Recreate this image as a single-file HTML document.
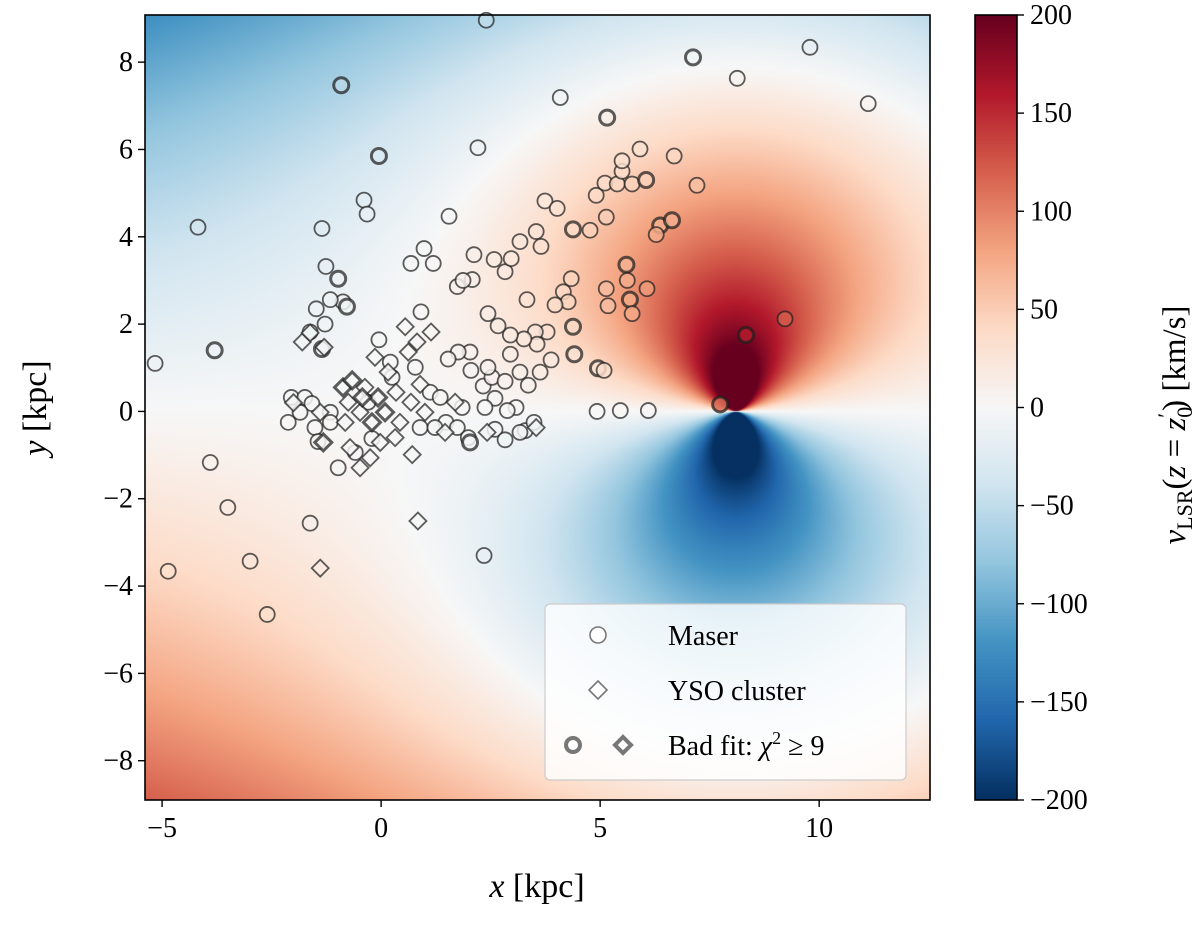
<!DOCTYPE html>
<html><head><meta charset="utf-8">
<style>
html,body{margin:0;padding:0;background:#fff;}
#wrap{position:relative;width:1200px;height:937px;overflow:hidden;font-family:"Liberation Serif",serif;}
canvas{position:absolute;}
svg{position:absolute;left:0;top:0;}
</style></head>
<body>
<div id="wrap">
<canvas id="bg" width="785" height="785" style="left:145px;top:15px;"></canvas>
<canvas id="cb" width="42" height="785" style="left:975px;top:15px;"></canvas>
<svg id="svg" width="1200" height="937"></svg>
</div>
<script>
const xTicks=[-5,0,5,10];
const yTicks=[-8,-6,-4,-2,0,2,4,6,8];
const cbTicks=[200,150,100,50,0,-50,-100,-150,-200];
const maserX=[-5.16,-4.18,-3.8,-3.9,-3.5,-4.86,-2.99,-2.6,-0.91,-0.05,-0.39,-0.32,-1.35,-1.26,-0.98,-0.87,-0.78,-1.16,-1.48,-1.28,-1.62,-1.35,-0.05,0.68,0.98,1.19,0.91,1.55,1.74,2.21,2.4,2.12,2.58,2.83,2.97,3.17,3.33,3.54,3.65,3.74,4.02,4.09,4.38,4.16,4.34,4.27,4.38,4.41,3.97,3.79,3.52,3.56,3.88,3.63,4.91,5.11,5.39,5.5,5.73,5.5,5.16,5.91,6.05,5.14,4.77,5.6,5.62,5.14,5.18,5.68,6.07,5.73,6.37,6.64,6.28,6.69,7.12,8.13,9.79,11.12,7.21,8.33,9.22,7.74,4.95,5.09,4.93,5.46,6.1,3.26,2.95,2.95,2.67,2.44,2.08,1.87,2.03,2.05,1.76,1.53,2.33,2.53,2.44,2.83,2.6,3.17,3.36,3.08,2.88,2.37,1.85,1.48,1.74,1.99,2.6,2.83,3.29,3.49,3.17,2.03,2.35,-1.62,-2.12,-2.05,-1.74,-1.58,-1.85,-1.16,-1.51,-1.16,-0.98,-1.44,-0.59,-0.21,-0.3,0.21,0.25,0.78,1.12,1.35,0.89,1.23];
const maserY=[1.1,4.22,1.4,-1.17,-2.2,-3.66,-3.43,-4.65,7.47,5.85,4.84,4.52,4.19,3.32,3.04,2.51,2.4,2.56,2.35,2.0,1.82,1.43,1.64,3.39,3.73,3.39,2.28,4.47,2.86,6.04,8.96,3.59,3.48,3.2,3.5,3.89,2.56,4.12,3.78,4.82,4.65,7.19,4.17,2.74,3.04,2.51,1.94,1.31,2.44,1.82,1.82,1.54,1.18,0.9,4.95,5.23,5.21,5.5,5.21,5.74,6.73,6.01,5.3,4.45,4.15,3.36,3.0,2.81,2.42,2.56,2.81,2.24,4.26,4.38,4.05,5.85,8.11,7.63,8.34,7.05,5.18,1.75,2.12,0.16,0.99,0.94,0,0.02,0.02,1.66,1.31,1.75,1.96,2.24,3.02,3.0,1.36,0.94,1.36,1.2,0.58,0.78,1.01,0.69,0.3,0.9,0.6,0.09,0.02,0.09,0.09,-0.25,-0.37,-0.6,-0.41,-0.65,-0.44,-0.25,-0.48,-0.71,-3.3,-2.56,-0.25,0.32,0.32,0.18,-0.02,-0.02,-0.37,-0.25,-1.29,-0.69,-0.94,-0.62,0.21,1.13,0.78,1.01,0.44,0.32,-0.37,-0.37];
const maserBad=[0,0,1,0,0,0,0,0,1,1,0,0,0,0,1,0,1,0,0,0,0,1,0,0,0,0,0,0,0,0,0,0,0,0,0,0,0,0,0,0,0,0,1,0,0,0,1,1,0,0,0,0,0,0,0,0,0,0,0,0,1,0,1,0,0,1,0,0,0,1,0,0,1,1,0,0,1,0,0,0,0,1,0,1,1,0,0,0,0,0,0,0,0,0,0,0,0,0,0,0,0,0,0,0,0,0,0,0,0,0,0,0,0,0,0,0,0,0,0,1,0,0,0,0,0,0,0,0,0,0,0,0,0,0,0,0,0,0,0,0,0];
const ysoX=[-1.8,-1.62,-1.3,0.55,1.14,0.82,0.62,0.89,0.34,0.68,0.43,-0.02,-0.25,-0.48,-0.71,-0.82,-0.87,-0.66,-0.37,-0.07,0.09,-0.21,-0.48,-1.39,-1.32,-2.0,0.71,0.84,-1.39,2.42,3.54,1.46,1.69,0.16,-0.14,1.0,0.32,-0.43,-0.75];
const ysoY=[1.59,1.8,1.47,1.94,1.82,1.59,1.36,0.62,0.44,0.21,-0.25,-0.71,-1.06,-1.29,-0.83,-0.25,0.55,0.71,0.55,0.32,-0.02,-0.25,-0.02,-0.02,-0.71,0.2,-0.99,-2.51,-3.59,-0.48,-0.37,-0.48,0.21,0.9,1.24,-0.02,-0.6,0.32,0.21];
const ysoBad=[0,0,0,0,0,0,0,0,0,0,0,0,0,0,0,0,1,1,0,1,1,1,0,0,1,0,0,0,0,0,0,0,0,0,0,0,0,1,0];

const L=145,R=930,T=15,B=800,XMIN=-5.39,XMAX=12.53,YMIN=-8.9,YMAX=9.08;
const sx=x=>L+(x-XMIN)/(XMAX-XMIN)*(R-L);
const sy=y=>B-(y-YMIN)/(YMAX-YMIN)*(B-T);
const stops=["#053061","#2166ac","#4393c3","#92c5de","#d1e5f0","#f7f7f7","#fddbc7","#f4a582","#d6604d","#b2182b","#67001f"].map(h=>[parseInt(h.slice(1,3),16),parseInt(h.slice(3,5),16),parseInt(h.slice(5,7),16)]);
function cmap(v){let t=(v+200)/400;t=Math.max(0,Math.min(1,t))*10;const i=Math.min(9,Math.floor(t)),f=t-i;const a=stops[i],b=stops[i+1];return [a[0]+(b[0]-a[0])*f,a[1]+(b[1]-a[1])*f,a[2]+(b[2]-a[2])*f];}
function field(x,y){const d=Math.hypot(x-8.1,y)+0.01;return 205*(y/d)*(1-d/7.9)*(1+0.35/(d+0.08));}
(function(){const c=document.getElementById('bg').getContext('2d');const W=785,H=785;const im=c.createImageData(W,H);
for(let j=0;j<H;j++){const y=YMAX-(j+0.5)/H*(YMAX-YMIN);for(let i=0;i<W;i++){const x=XMIN+(i+0.5)/W*(XMAX-XMIN);const col=cmap(field(x,y));const k=(j*W+i)*4;im.data[k]=col[0];im.data[k+1]=col[1];im.data[k+2]=col[2];im.data[k+3]=255;}}
c.putImageData(im,0,0);
const cb=document.getElementById('cb').getContext('2d');for(let j=0;j<785;j++){const col=cmap(200-(j+0.5)/785*400);cb.fillStyle=`rgb(${col[0]|0},${col[1]|0},${col[2]|0})`;cb.fillRect(0,j,42,1);}})();
const NS="http://www.w3.org/2000/svg";const svg=document.getElementById('svg');
function el(t,a,p){const e=document.createElementNS(NS,t);for(const k in a)e.setAttribute(k,a[k]);(p||svg).appendChild(e);return e;}
function fillAt(x,y){const c=cmap(field(x,y)*0.85);return `rgba(${c[0]|0},${c[1]|0},${c[2]|0},0.85)`;}
const gM=el('g',{});
for(let i=0;i<maserX.length;i++){const c=el('circle',{cx:sx(maserX[i]),cy:sy(maserY[i]),r:7.5,fill:fillAt(maserX[i],maserY[i]),stroke:'rgba(30,30,30,0.72)','stroke-width':maserBad[i]?3:1.8},gM);

}
const gY=el('g',{});
for(let i=0;i<ysoX.length;i++){const cx=sx(ysoX[i]),cy=sy(ysoY[i]),s=8.5;const p=el('polygon',{points:`${cx},${cy-s} ${cx+s},${cy} ${cx},${cy+s} ${cx-s},${cy}`,fill:fillAt(ysoX[i],ysoY[i]),stroke:'rgba(30,30,30,0.72)','stroke-width':ysoBad[i]?3:1.8},gY);

}
const fr=el('rect',{x:L,y:T,width:R-L,height:B-T,fill:'none',stroke:'#000','stroke-width':1.6});

const cf=el('rect',{x:975,y:15,width:42,height:785,fill:'none',stroke:'#000','stroke-width':1.6});

const txtStyle={'font-family':'Liberation Serif, serif','font-size':28,fill:'#000'};
function text(x,y,s,a,name){const t=el('text',Object.assign({x,y},txtStyle,a||{}));t.textContent=s;return t;}
xTicks.forEach(v=>{const x=sx(v);el('line',{x1:x,x2:x,y1:B,y2:B+7,stroke:'#000','stroke-width':1.4});text(x,B+37,(v<0?'\u2212':'')+Math.abs(v),{'text-anchor':'middle'},'x-tick-label');});
yTicks.forEach(v=>{const y=sy(v);el('line',{x1:L-7,x2:L,y1:y,y2:y,stroke:'#000','stroke-width':1.4});text(L-12,y+9,(v<0?'\u2212':'')+Math.abs(v),{'text-anchor':'end'},'y-tick-label');});
cbTicks.forEach(v=>{const y=15+(200-v)/400*785;el('line',{x1:1017,x2:1024,y1:y,y2:y,stroke:'#000','stroke-width':1.4});text(1030,y+9,(v<0?'\u2212':'')+Math.abs(v),{},'colorbar-tick-label');});
const xl=text(537,897,'',{'text-anchor':'middle','font-size':34},'x-axis-title');xl.innerHTML='<tspan font-style="italic">x</tspan> [kpc]';
const yl=text(0,0,'',{'text-anchor':'middle','font-size':34,transform:'translate(46,408) rotate(-90)'},'y-axis-title');yl.innerHTML='<tspan font-style="italic">y</tspan> [kpc]';
const cl=text(0,0,'',{'text-anchor':'middle','font-size':33,transform:'translate(1185,425) rotate(-90)'},'colorbar-title');cl.innerHTML='<tspan font-style="italic">v</tspan><tspan font-size="22" dy="7">LSR</tspan><tspan dy="-7">(</tspan><tspan font-style="italic">z</tspan> = <tspan font-style="italic">z</tspan><tspan font-size="22" dy="7">0</tspan><tspan font-size="22" dy="-19" dx="-11">′</tspan><tspan dy="12" dx="2">) [km/s]</tspan>';
const lg=el('g',{});
el('rect',{x:545,y:604,width:361,height:176,rx:5,fill:'rgba(255,255,255,0.8)',stroke:'#ccc','stroke-width':1.2},lg);
el('circle',{cx:598,cy:635,r:8,fill:'#fff',stroke:'#777','stroke-width':1.6},lg);
el('polygon',{points:'598,681 607,690 598,699 589,690',fill:'#fff',stroke:'#777','stroke-width':1.6},lg);
el('circle',{cx:573,cy:745,r:7,fill:'#fff',stroke:'#777','stroke-width':4},lg);
el('polygon',{points:'623,737 631,745 623,753 615,745',fill:'#fff',stroke:'#777','stroke-width':4},lg);
text(668,645,'Maser',{},'legend-maser');
text(668,700,'YSO cluster',{},'legend-yso');
const bf=text(668,755,'',{},'legend-bad-fit');bf.innerHTML='Bad fit: <tspan font-style="italic">χ</tspan><tspan font-size="18" dy="-11">2</tspan><tspan dy="11"> ≥ 9</tspan>';
</script>
</body></html>
